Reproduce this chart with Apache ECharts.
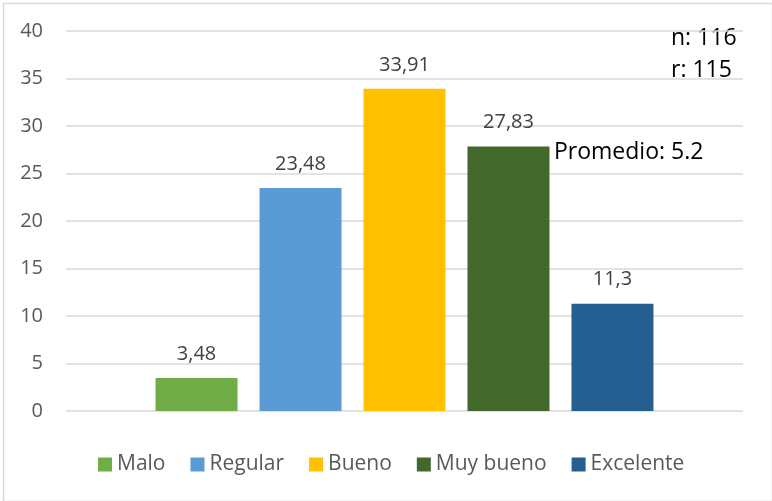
<!DOCTYPE html>
<html><head><meta charset="utf-8">
<script src="https://cdn.jsdelivr.net/npm/echarts@6/dist/echarts.min.js"></script>
<style>html,body{margin:0;padding:0;background:#fff}#c{width:772px;height:501px;}</style>
</head><body><div id="c"></div>
<script>
const categories = [''];
const seriesNames = ['Malo', 'Regular', 'Bueno', 'Muy bueno', 'Excelente'];
const seriesValues = [3.48, 23.48, 33.91, 27.83, 11.3];
const seriesColors = ['#70ad47', '#5b9bd5', '#ffc000', '#43682b', '#255e91'];
const yTicks = {min: 0, max: 40, interval: 5};
const notes = ['n: 116', 'r: 115', 'Promedio: 5.2'];

const FONT = '"Open Sans", "Noto Sans", sans-serif';
const chart = echarts.init(document.getElementById('c'), null, {renderer: 'canvas'});
chart.setOption({
  animation: false,
  grid: {left: 66, right: 29, top: 31, bottom: 90},
  legend: {
    top: 449, left: 93, itemWidth: 14, itemHeight: 14, itemGap: 25,
    icon: 'rect',
    textStyle: {fontFamily: FONT, fontSize: 21, color: '#595959'},
    data: seriesNames
  },
  xAxis: {type: 'category', data: categories, axisLine: {show: false}, axisTick: {show: false}, axisLabel: {show: false}},
  yAxis: {
    type: 'value', min: yTicks.min, max: yTicks.max, interval: yTicks.interval,
    axisLine: {show: false}, axisTick: {show: false},
    splitLine: {lineStyle: {color: '#d9d9d9', width: 1.5}},
    axisLabel: {fontFamily: FONT, fontSize: 20, color: '#595959', margin: 23}
  },
  series: seriesNames.map((n, i) => ({
    name: n, type: 'bar', barWidth: 82, barGap: '26.8%',
    itemStyle: {color: seriesColors[i]},
    label: {show: true, position: 'top', distance: 14, fontFamily: FONT, fontSize: 20, color: '#404040',
      formatter: p => String(p.value).replace('.', ',')},
    data: [seriesValues[i]]
  })),
  graphic: [
    {type: 'rect', left: 1, top: 1, shape: {width: 769, height: 498}, style: {fill: 'none', stroke: '#d9d9d9', lineWidth: 1.5}, silent: true},
    {type: 'text', left: 671, top: 27, style: {text: notes[0], font: '23px ' + FONT, fill: '#000'}},
    {type: 'text', left: 671, top: 59, style: {text: notes[1], font: '23px ' + FONT, fill: '#000'}},
    {type: 'text', left: 554, top: 141, style: {text: notes[2], font: '23px ' + FONT, fill: '#000'}}
  ]
});
</script></body></html>
